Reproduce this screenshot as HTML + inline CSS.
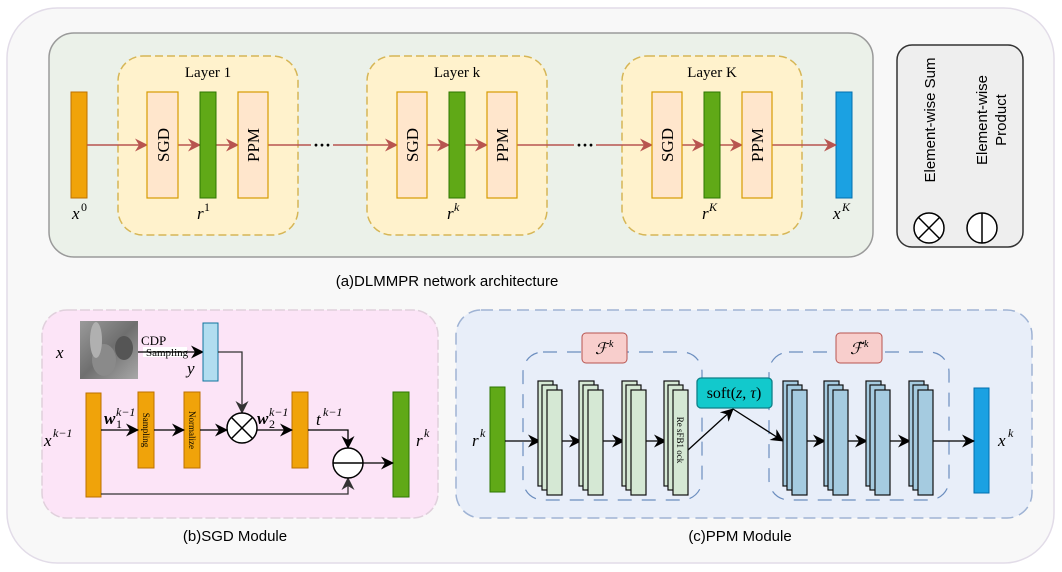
<!DOCTYPE html>
<html><head><meta charset="utf-8"><style>
html,body{margin:0;padding:0;background:#fff;}
svg{display:block;}
.m{font-family:"Liberation Serif",serif;font-style:italic;}
.s{font-family:"Liberation Serif",serif;}
.a{font-family:"Liberation Sans",sans-serif;}
</style></head><body>
<svg width="1062" height="572" viewBox="0 0 1062 572" xmlns="http://www.w3.org/2000/svg">
<defs>
<marker id="ar" markerWidth="13" markerHeight="13" refX="12" refY="6.5" orient="auto" markerUnits="userSpaceOnUse"><path d="M0,0 L13,6.5 L0,13 L4,6.5 Z" fill="#b85450"/></marker>
<marker id="ak" markerWidth="13" markerHeight="13" refX="12" refY="6.5" orient="auto" markerUnits="userSpaceOnUse"><path d="M0,0 L13,6.5 L0,13 L4,6.5 Z" fill="#000"/></marker>
<marker id="ag" markerWidth="13" markerHeight="13" refX="12" refY="6.5" orient="auto" markerUnits="userSpaceOnUse"><path d="M0,0 L13,6.5 L0,13 L4,6.5 Z" fill="#333"/></marker>
<linearGradient id="img" x1="0" y1="0" x2="1" y2="1"><stop offset="0" stop-color="#9a9a9a"/><stop offset="0.5" stop-color="#6f6f6f"/><stop offset="1" stop-color="#a8a8a8"/></linearGradient>
</defs>
<rect x="7" y="8" width="1047" height="555" rx="50" fill="#f8f8f8" stroke="#e2dce8" stroke-width="1.5"/>
<rect x="49" y="33" width="824" height="224" rx="25" fill="#ebf1e9" stroke="#9a9a9a" stroke-width="1.5"/>
<g fill="#fff2cc" stroke="#d6b656" stroke-width="1.5" stroke-dasharray="8,4">
<rect x="118" y="56" width="180" height="179" rx="25"/>
<rect x="367" y="56" width="180" height="179" rx="25"/>
<rect x="622" y="56" width="180" height="179" rx="25"/>
</g>
<g class="s" font-size="15" text-anchor="middle">
<text x="208" y="77">Layer 1</text><text x="457" y="77">Layer k</text><text x="712" y="77">Layer K</text>
</g>
<rect x="71" y="92" width="16" height="106" fill="#f0a30a" stroke="#bd7000"/>
<rect x="836" y="92" width="16" height="106" fill="#1ba1e2" stroke="#006eaf"/>
<g stroke="#b85450" stroke-width="1.5" marker-end="url(#ar)">
<line x1="87" y1="145" x2="147" y2="145"/><line x1="178" y1="145" x2="200" y2="145"/><line x1="216" y1="145" x2="238" y2="145"/>
<line x1="268" y1="145" x2="397" y2="145"/><line x1="427" y1="145" x2="449" y2="145"/><line x1="465" y1="145" x2="487" y2="145"/>
<line x1="517" y1="145" x2="652" y2="145"/><line x1="682" y1="145" x2="704" y2="145"/><line x1="720" y1="145" x2="742" y2="145"/>
<line x1="772" y1="145" x2="836" y2="145"/>
</g>
<rect x="311" y="136" width="22" height="18" fill="#ebf1e9"/><text x="322" y="151" font-size="18" text-anchor="middle" class="s" font-weight="bold">···</text>
<rect x="574" y="136" width="22" height="18" fill="#ebf1e9"/><text x="585" y="151" font-size="18" text-anchor="middle" class="s" font-weight="bold">···</text>
<g>
<rect x="147" y="92" width="31" height="106" fill="#ffe6cc" stroke="#d79b00" stroke-width="1.2"/>
<rect x="200" y="92" width="16" height="106" fill="#60a917" stroke="#2d7600"/>
<rect x="238" y="92" width="30" height="106" fill="#ffe6cc" stroke="#d79b00" stroke-width="1.2"/>
<rect x="397" y="92" width="30" height="106" fill="#ffe6cc" stroke="#d79b00" stroke-width="1.2"/>
<rect x="449" y="92" width="16" height="106" fill="#60a917" stroke="#2d7600"/>
<rect x="487" y="92" width="30" height="106" fill="#ffe6cc" stroke="#d79b00" stroke-width="1.2"/>
<rect x="652" y="92" width="30" height="106" fill="#ffe6cc" stroke="#d79b00" stroke-width="1.2"/>
<rect x="704" y="92" width="16" height="106" fill="#60a917" stroke="#2d7600"/>
<rect x="742" y="92" width="30" height="106" fill="#ffe6cc" stroke="#d79b00" stroke-width="1.2"/>
</g>
<g class="s" font-size="17" text-anchor="middle">
<text transform="translate(169,145) rotate(-90)">SGD</text><text transform="translate(259,145) rotate(-90)">PPM</text>
<text transform="translate(418,145) rotate(-90)">SGD</text><text transform="translate(508,145) rotate(-90)">PPM</text>
<text transform="translate(673,145) rotate(-90)">SGD</text><text transform="translate(763,145) rotate(-90)">PPM</text>
</g>
<g class="m" font-size="17">
<text x="72" y="219">x</text><text x="81" y="211" font-size="12" style="font-style:normal">0</text>
<text x="197" y="219">r</text><text x="204" y="211" font-size="12" style="font-style:normal">1</text>
<text x="447" y="219">r</text><text x="454" y="211" font-size="12">k</text>
<text x="702" y="219">r</text><text x="709" y="211" font-size="12">K</text>
<text x="833" y="219">x</text><text x="842" y="211" font-size="12">K</text>
</g>
<text x="447" y="286" class="a" font-size="15" text-anchor="middle">(a)DLMMPR network architecture</text>
<rect x="897" y="45" width="126" height="202" rx="15" fill="#eeeeee" stroke="#333" stroke-width="1.5"/>
<g class="a" font-size="15" text-anchor="middle">
<text transform="translate(935,120) rotate(-90)">Element-wise Sum</text>
<text transform="translate(987,120) rotate(-90)">Element-wise</text>
<text transform="translate(1006,120) rotate(-90)">Product</text>
</g>
<circle cx="929" cy="228" r="15" fill="#fff" stroke="#000" stroke-width="1.5"/>
<line x1="918.4" y1="217.4" x2="939.6" y2="238.6" stroke="#000" stroke-width="1.5"/><line x1="939.6" y1="217.4" x2="918.4" y2="238.6" stroke="#000" stroke-width="1.5"/>
<circle cx="982" cy="228" r="15" fill="#fff" stroke="#000" stroke-width="1.5"/>
<line x1="982" y1="213" x2="982" y2="243" stroke="#000" stroke-width="1.5"/>
<rect x="42" y="310" width="396" height="208" rx="25" fill="#fce4f7" stroke="#e0d0dc" stroke-width="1.5" stroke-dasharray="10,3"/>
<rect x="80" y="321" width="58" height="58" fill="url(#img)"/>
<ellipse cx="104" cy="360" rx="12" ry="16" fill="#8a8a8a"/><ellipse cx="96" cy="340" rx="6" ry="18" fill="#b0b0b0"/><ellipse cx="124" cy="348" rx="9" ry="12" fill="#555"/>
<text x="56" y="358" class="m" font-size="17">x</text>
<text x="141" y="345" class="s" font-size="13">CDP</text>
<rect x="143" y="347" width="44" height="10" fill="#fff"/>
<text x="146" y="356" class="s" font-size="11">Sampling</text>
<line x1="138" y1="352" x2="203" y2="352" stroke="#000" stroke-width="1.2" marker-end="url(#ak)"/>
<rect x="203" y="323" width="15" height="58" fill="#b1ddf0" stroke="#10739e"/>
<text x="187" y="374" class="m" font-size="17">y</text>
<rect x="86" y="393" width="15" height="104" fill="#f0a30a" stroke="#bd7000"/>
<rect x="138" y="392" width="16" height="76" fill="#f0a30a" stroke="#bd7000"/>
<rect x="184" y="392" width="16" height="76" fill="#f0a30a" stroke="#bd7000"/>
<rect x="292" y="392" width="16" height="76" fill="#f0a30a" stroke="#bd7000"/>
<rect x="393" y="392" width="16" height="105" fill="#60a917" stroke="#2d7600"/>
<text transform="translate(143,430) rotate(90)" class="s" font-size="9" text-anchor="middle">Sampling</text>
<text transform="translate(189,430) rotate(90)" class="s" font-size="9" text-anchor="middle">Normalize</text>
<g stroke="#000" stroke-width="1.3" fill="none">
<line x1="101" y1="430" x2="138" y2="430" marker-end="url(#ak)"/>
<line x1="154" y1="430" x2="184" y2="430" marker-end="url(#ak)"/>
<line x1="200" y1="430" x2="227" y2="430" marker-end="url(#ak)"/>
<line x1="257" y1="430" x2="292" y2="430" marker-end="url(#ak)"/>
<line x1="363" y1="463" x2="393" y2="463" marker-end="url(#ak)"/>
<polyline points="308,430 348,430 348,448" marker-end="url(#ak)"/>
</g>
<g stroke="#333" stroke-width="1.3" fill="none">
<polyline points="218,352 242,352 242,413" marker-end="url(#ag)"/>
<polyline points="101,494 348,494 348,478" marker-end="url(#ag)"/>
</g>
<circle cx="242" cy="428" r="15" fill="#fff" stroke="#000" stroke-width="1.5"/>
<line x1="231.4" y1="417.4" x2="252.6" y2="438.6" stroke="#000" stroke-width="1.5"/><line x1="252.6" y1="417.4" x2="231.4" y2="438.6" stroke="#000" stroke-width="1.5"/>
<circle cx="348" cy="463" r="15" fill="#fff" stroke="#000" stroke-width="1.5"/>
<line x1="333" y1="463" x2="363" y2="463" stroke="#000" stroke-width="1.5"/>
<g class="m" font-size="17">
<text x="44" y="446">x</text><text x="53" y="437" font-size="12">k−1</text>
<text x="104" y="424" font-weight="bold">w</text><text x="116" y="416" font-size="12">k−1</text><text x="116" y="428" font-size="12" style="font-style:normal">1</text>
<text x="257" y="424" font-weight="bold">w</text><text x="269" y="416" font-size="12">k−1</text><text x="269" y="428" font-size="12" style="font-style:normal">2</text>
<text x="316" y="425">t</text><text x="323" y="416" font-size="12">k−1</text>
<text x="416" y="446">r</text><text x="424" y="437" font-size="12">k</text>
</g>
<text x="235" y="541" class="a" font-size="15" text-anchor="middle">(b)SGD Module</text>
<rect x="456" y="310" width="576" height="208" rx="25" fill="#e8eef9" stroke="#9fb3d4" stroke-width="1.5" stroke-dasharray="12,6"/>
<g fill="none" stroke="#6c8ebf" stroke-width="1.2" stroke-dasharray="14,10">
<rect x="523" y="352" width="179" height="148" rx="20"/>
<rect x="769" y="352" width="180" height="148" rx="20"/>
</g>
<rect x="582" y="333" width="45" height="30" rx="4" fill="#f8cecc" stroke="#b85450"/>
<rect x="836" y="333" width="46" height="30" rx="4" fill="#f8cecc" stroke="#b85450"/>
<text x="595" y="354" class="m" font-size="16">ℱ</text><text x="609" y="347" class="m" font-size="10">k</text>
<text x="850" y="354" class="m" font-size="16">ℱ̃</text><text x="864" y="347" class="m" font-size="10">k</text>
<rect x="490" y="387" width="15" height="105" fill="#60a917" stroke="#2d7600"/>
<rect x="974" y="388" width="15" height="105" fill="#1ba1e2" stroke="#006eaf"/>
<g stroke="#000" stroke-width="1.3">
<line x1="505" y1="441" x2="540" y2="441" marker-end="url(#ak)"/>
<line x1="555" y1="441" x2="581" y2="441" marker-end="url(#ak)"/>
<line x1="596" y1="441" x2="624" y2="441" marker-end="url(#ak)"/>
<line x1="639" y1="441" x2="666" y2="441" marker-end="url(#ak)"/>
<line x1="688" y1="450" x2="733" y2="409" marker-end="url(#ak)"/>
<line x1="733" y1="409" x2="783" y2="441" marker-end="url(#ak)"/>
<line x1="799" y1="441" x2="825" y2="441" marker-end="url(#ak)"/>
<line x1="840" y1="441" x2="867" y2="441" marker-end="url(#ak)"/>
<line x1="882" y1="441" x2="910" y2="441" marker-end="url(#ak)"/>
<line x1="925" y1="441" x2="974" y2="441" marker-end="url(#ak)"/>
</g>
<g fill="#d5e8d4" stroke="#111" stroke-width="1.2">
<rect x="538" y="381" width="15" height="105"/><rect x="542" y="385" width="15" height="105"/><rect x="547" y="390" width="15" height="105"/>
<rect x="579" y="381" width="15" height="105"/><rect x="583" y="385" width="15" height="105"/><rect x="588" y="390" width="15" height="105"/>
<rect x="622" y="381" width="15" height="105"/><rect x="626" y="385" width="15" height="105"/><rect x="631" y="390" width="15" height="105"/>
<rect x="664" y="381" width="15" height="105"/><rect x="668" y="385" width="15" height="105"/><rect x="673" y="390" width="15" height="105"/>
</g>
<text transform="translate(677,440) rotate(90)" class="s" font-size="9" text-anchor="middle">Re sFB1 ock</text>
<g fill="#a5cbe0" stroke="#111" stroke-width="1.2">
<rect x="783" y="381" width="15" height="105"/><rect x="787" y="385" width="15" height="105"/><rect x="792" y="390" width="15" height="105"/>
<rect x="824" y="381" width="15" height="105"/><rect x="828" y="385" width="15" height="105"/><rect x="833" y="390" width="15" height="105"/>
<rect x="866" y="381" width="15" height="105"/><rect x="870" y="385" width="15" height="105"/><rect x="875" y="390" width="15" height="105"/>
<rect x="909" y="381" width="15" height="105"/><rect x="913" y="385" width="15" height="105"/><rect x="918" y="390" width="15" height="105"/>
</g>
<rect x="697" y="378" width="75" height="30" rx="4" fill="#12c9cc" stroke="#0e8088" stroke-width="1.3"/>
<text x="734" y="398" class="s" font-size="16" text-anchor="middle">soft(<tspan font-style="italic">z</tspan>, <tspan font-style="italic">τ</tspan>)</text>
<text x="472" y="446" class="m" font-size="17">r</text><text x="480" y="437" class="m" font-size="12">k</text>
<text x="998" y="446" class="m" font-size="17">x</text><text x="1008" y="437" class="m" font-size="12">k</text>
<text x="740" y="541" class="a" font-size="15" text-anchor="middle">(c)PPM Module</text>
</svg>
</body></html>
